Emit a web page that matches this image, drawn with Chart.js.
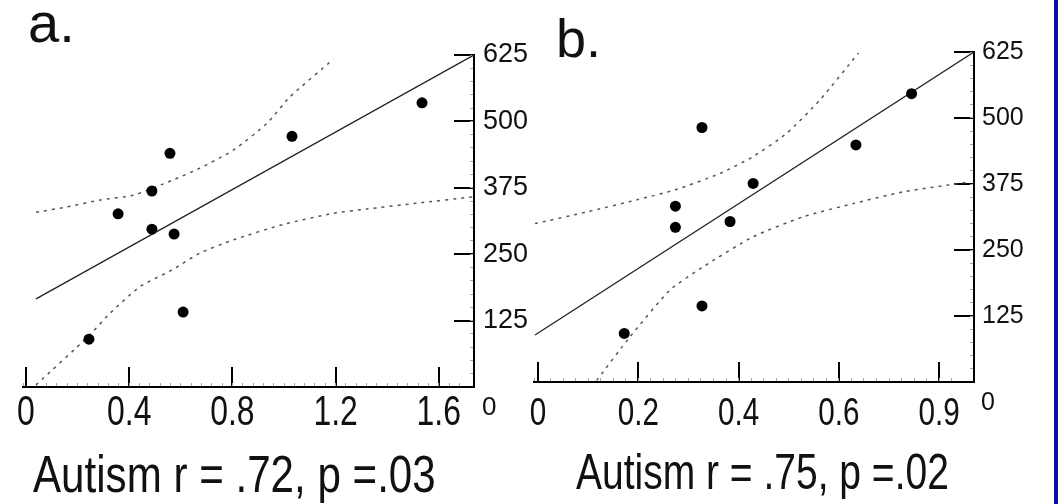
<!DOCTYPE html>
<html>
<head>
<meta charset="utf-8">
<script src="https://cdn.jsdelivr.net/npm/chart.js@4.4.1/dist/chart.umd.min.js"></script>
<style>
  html, body { margin: 0; padding: 0; background: #fff; }
  body { width: 1058px; height: 504px; position: relative; overflow: hidden;
         font-family: "Liberation Sans", Arial, sans-serif; color: #111; }
  canvas { position: absolute; top: 0; }
  #chartA { left: 0; }
  #chartB { left: 520px; }
  .txt { position: absolute; white-space: nowrap; line-height: 1; }
  .cap { transform-origin: 0 0; }
  #edge { position: absolute; left: 1054px; top: 0; width: 4px; height: 504px; background: #0a0aa8; }
</style>
</head>
<body>
<canvas id="chartA" width="540" height="504"></canvas>
<canvas id="chartB" width="538" height="504"></canvas>

<div class="txt" style="left:28px; top:-5px; font-size:56px;">a.</div>
<div class="txt" style="left:556px; top:11px; font-size:54px;">b.</div>
<div class="txt" style="left:482px; top:393px; font-size:26px;">0</div>
<div class="txt" style="left:981px; top:389px; font-size:25px;">0</div>
<div class="txt cap" style="left:33px; top:448px; font-size:52px; transform:scaleX(0.81);">Autism r = .72, p =.03</div>
<div class="txt cap" style="left:576px; top:447px; font-size:50px; transform:scaleX(0.78);">Autism r = .75, p =.02</div>
<div id="edge"></div>

<script>
// shared y axis (reaction values)
const yTicks = [125, 250, 375, 500, 625];

// panel a
const xTicksA = [0, 0.4, 0.8, 1.2, 1.6];
const xTickLabelsA = ['0', '0.4', '0.8', '1.2', '1.6'];
const pointXA = [0.244, 0.357, 0.488, 0.488, 0.558, 0.574, 0.609, 1.031, 1.535];
const pointYA = [90, 326, 369, 297, 440, 288, 141, 472, 535];
const fitXA = [0.039, 1.736];
const fitYA = [166, 625];
const upperXA = [0.039, 0.158, 0.287, 0.416, 0.571, 0.674, 0.804, 0.933, 1.023, 1.191];
const upperYA = [329, 339, 352, 361, 390, 412, 446, 496, 546, 617];
const lowerXA = [0.039, 0.241, 0.326, 0.442, 0.565, 0.674, 0.804, 0.997, 1.191, 1.321, 1.514, 1.734];
const lowerYA = [4, 95, 139, 189, 220, 252, 277, 306, 327, 335, 346, 358];

// panel b
const xTicksB = [0, 0.2, 0.4, 0.6, 0.8];
const xTickLabelsB = ['0', '0.2', '0.4', '0.6', '0.9'];
const pointXB = [0.172, 0.274, 0.274, 0.327, 0.327, 0.383, 0.429, 0.634, 0.745];
const pointYB = [92, 333, 293, 482, 144, 304, 376, 449, 546];
const fitXB = [-0.006, 0.8695];
const fitYB = [89, 625];
const upperXB = [-0.006, 0.097, 0.197, 0.274, 0.363, 0.429, 0.496, 0.562, 0.639];
const upperYB = [300, 322, 345, 364, 395, 427, 471, 534, 623];
const lowerXB = [0.117, 0.183, 0.263, 0.329, 0.429, 0.529, 0.629, 0.728, 0.862];
const lowerYB = [3, 85, 174, 218, 275, 313, 338, 360, 379];

function pairs(xs, ys) {
  return xs.map((x, i) => ({ x: x, y: ys[i] }));
}

function dashed(xs, ys) {
  return {
    data: pairs(xs, ys), showLine: true, pointRadius: 0,
    borderColor: '#555', borderWidth: 1.5, borderDash: [3, 5], tension: 0.2
  };
}

// x tick labels are tall and condensed, so they are drawn squeezed at each tick
const condensedTicks = {
  id: 'condensedTicks',
  afterDraw(chart, args, opts) {
    const s = chart.scales.x;
    const ctx = chart.ctx;
    ctx.save();
    ctx.fillStyle = '#111';
    ctx.font = opts.size + 'px "Liberation Sans", sans-serif';
    ctx.textAlign = 'center';
    ctx.textBaseline = 'alphabetic';
    s.ticks.forEach((t, i) => {
      ctx.save();
      ctx.translate(s.getPixelForValue(t.value), s.top + opts.baseline);
      ctx.scale(opts.squeeze, 1);
      ctx.fillText(opts.labels[i], 0, 0);
      ctx.restore();
    });
    ctx.restore();
  }
};

function makePanel(el, p) {
  return new Chart(el, {
    type: 'scatter',
    data: {
      datasets: [
        { data: pairs(p.pointX, p.pointY), pointRadius: 5.5, pointHoverRadius: 5.5,
          backgroundColor: '#000', borderWidth: 0 },
        { data: pairs(p.fitX, p.fitY), showLine: true, pointRadius: 0,
          borderColor: '#222', borderWidth: 1.3 },
        dashed(p.upperX, p.upperY),
        dashed(p.lowerX, p.lowerY)
      ]
    },
    plugins: [condensedTicks],
    options: {
      responsive: false,
      animation: false,
      events: [],
      layout: { padding: { left: p.padLeft, top: p.padTop, right: 0, bottom: 0 } },
      plugins: {
        legend: { display: false },
        tooltip: { enabled: false },
        condensedTicks: { labels: p.xTickLabels, size: p.xFont, squeeze: p.xSqueeze, baseline: p.xBaseline }
      },
      scales: {
        x: {
          type: 'linear', position: 'bottom', weight: 1,
          min: p.xMin, max: p.xMax,
          afterFit: s => { s.height = p.xAxisHeight; },
          afterBuildTicks: s => { s.ticks = p.xTicks.map(v => ({ value: v })); },
          ticks: { display: false },
          grid: { drawOnChartArea: false, tickLength: -20, color: '#000', lineWidth: 2 },
          border: { color: '#000', width: 2 }
        },
        xMinor: {
          type: 'linear', position: 'bottom', weight: 0,
          min: p.xMin, max: p.xMax,
          afterFit: s => { s.height = 0; },
          ticks: { display: false, stepSize: p.xMinorStep },
          grid: { drawOnChartArea: false, tickLength: -4, color: '#aaa', lineWidth: 1 },
          border: { display: false }
        },
        y: {
          type: 'linear', position: 'right', weight: 1,
          min: 0, max: 625,
          afterFit: s => { s.width = p.yAxisWidth; },
          afterBuildTicks: s => { s.ticks = yTicks.map(v => ({ value: v })); },
          ticks: {
            color: '#111', padding: p.yLabelPad,
            font: { family: '"Liberation Sans", sans-serif', size: p.yFont }
          },
          grid: { drawOnChartArea: false, tickLength: -20, color: '#000', lineWidth: 2 },
          border: { color: '#000', width: 2 }
        },
        yMinor: {
          type: 'linear', position: 'right', weight: 0,
          min: 0, max: 625,
          afterFit: s => { s.width = 0; },
          ticks: { display: false, stepSize: 25 },
          grid: { drawOnChartArea: false, tickLength: -4, color: '#aaa', lineWidth: 1 },
          border: { display: false }
        }
      }
    }
  });
}

makePanel(document.getElementById('chartA'), {
  pointX: pointXA, pointY: pointYA, fitX: fitXA, fitY: fitYA,
  upperX: upperXA, upperY: upperYA, lowerX: lowerXA, lowerY: lowerYA,
  xTicks: xTicksA, xTickLabels: xTickLabelsA,
  xMin: -0.0116, xMax: 1.7364, xMinorStep: 0.04,
  padLeft: 23, padTop: 55, xAxisHeight: 117, yAxisWidth: 66,
  xFont: 42, xSqueeze: 0.76, xBaseline: 38, yFont: 27, yLabelPad: 29
});

makePanel(document.getElementById('chartB'), {
  pointX: pointXB, pointY: pointYB, fitX: fitXB, fitY: fitYB,
  upperX: upperXB, upperY: upperYB, lowerX: lowerXB, lowerY: lowerYB,
  xTicks: xTicksB, xTickLabels: xTickLabelsB,
  xMin: -0.008, xMax: 0.8695, xMinorStep: 0.025,
  padLeft: 14, padTop: 52, xAxisHeight: 122, yAxisWidth: 84,
  xFont: 38, xSqueeze: 0.78, xBaseline: 43, yFont: 25, yLabelPad: 28
});
</script>
</body>
</html>
